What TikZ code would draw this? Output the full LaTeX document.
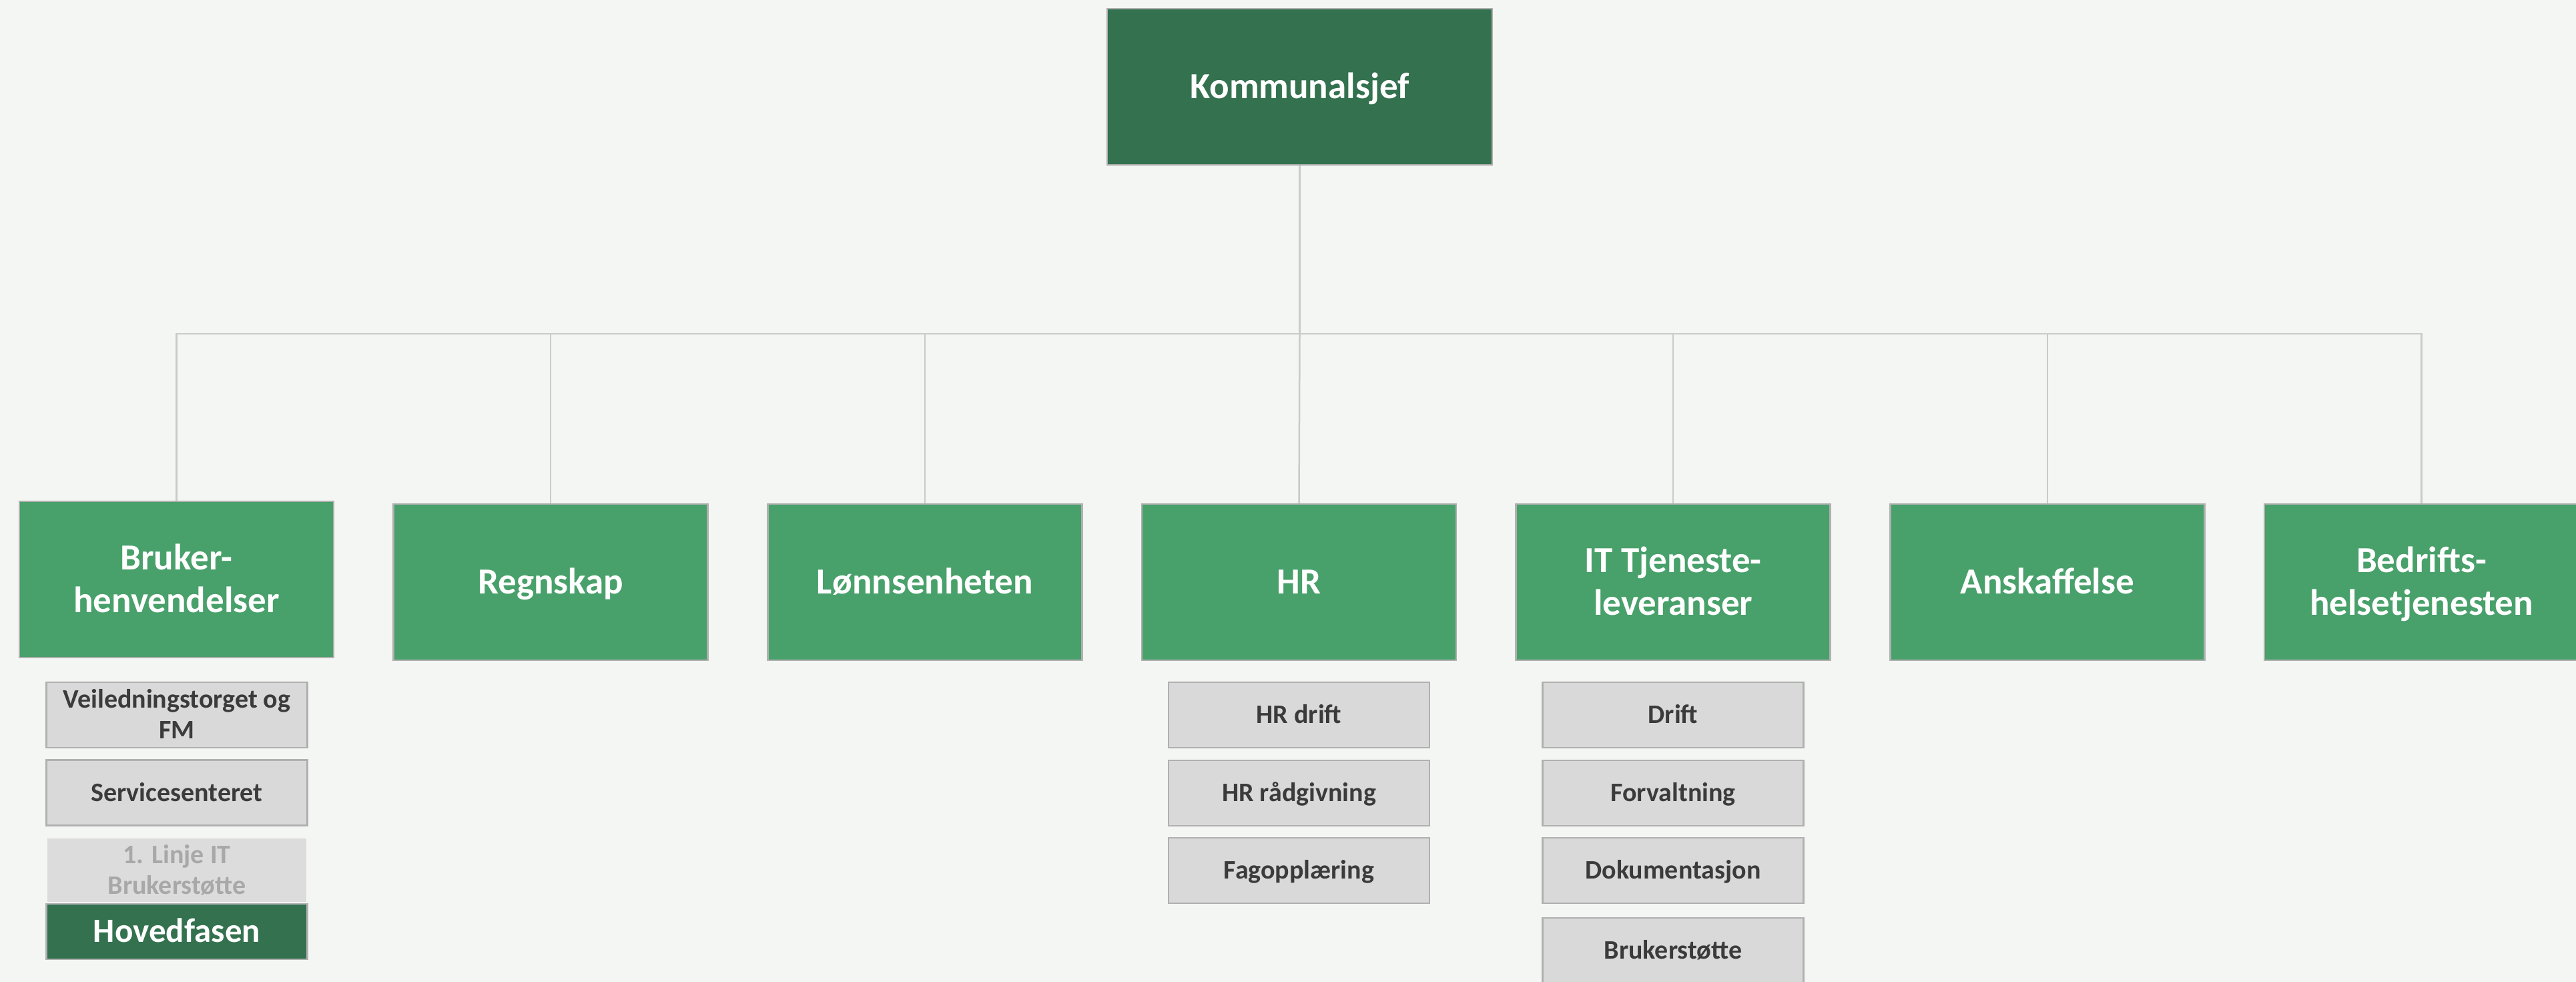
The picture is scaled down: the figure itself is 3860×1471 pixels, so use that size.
\documentclass[tikz,border=0pt]{standalone}
\usepackage{fontspec}
\setmainfont{Carlito}

\definecolor{bakgrunn}{HTML}{F4F6F3}
\definecolor{moerkgroenn}{HTML}{33714F}
\definecolor{groenn}{HTML}{48A06A}
\definecolor{graafyll}{HTML}{D9D9D9}
\definecolor{lysgraa}{HTML}{DCDCDC}
\definecolor{kant}{HTML}{B0B0B0}
\definecolor{strek}{HTML}{CACACA}
\definecolor{tekstgraa}{HTML}{3B3B3B}
\definecolor{svaktekst}{HTML}{A8A8A8}

\tikzset{
    chef/.style={draw=kant, line width=2.5pt, fill=moerkgroenn, text=white, inner sep=0pt,
        text height=45pt, text depth=9.6pt,
        minimum width=577pt, minimum height=234pt, font=\bfseries\fontsize{55}{64}\selectfont},
    avdeling/.style={draw=kant, line width=2.5pt, fill=groenn, text=white, inner sep=0pt, align=center,
        text height=45pt, text depth=9.6pt,
        minimum width=471pt, minimum height=234pt, font=\bfseries\fontsize{55}{64}\selectfont},
    enhet/.style={draw=kant, line width=2.5pt, fill=graafyll, text=tekstgraa, inner sep=0pt, align=center,
        text height=33pt, text depth=7.2pt,
        minimum width=391pt, minimum height=98pt, font=\bfseries\fontsize{40}{46}\selectfont},
    utgaatt/.style={fill=lysgraa, text=svaktekst, inner sep=0pt, align=center,
        text height=33pt, text depth=7.2pt,
        minimum width=388pt, minimum height=95pt, font=\bfseries\fontsize{40}{46}\selectfont},
    hovedfase/.style={draw=kant, line width=2.5pt, fill=moerkgroenn, text=white, inner sep=0pt,
        text height=42pt, text depth=9.2pt,
        minimum width=391pt, minimum height=83pt, font=\bfseries\fontsize{51}{60}\selectfont},
    % zweizeilige Texte: die erste Zeile kommt oben drauf
    tostor/.style={text height=109pt},
    toliten/.style={text height=79pt},
    linje/.style={draw=strek, line width=2.5pt}
}

\begin{document}
\begin{tikzpicture}[x=1pt, y=-1pt]
    % Hintergrund und Bildgrenzen (Pixelkoordinaten, y zeigt nach unten):
    \useasboundingbox (0,0) rectangle (3860,1471);
    \fill[bakgrunn] (0,0) rectangle (3860,1471);
    \clip (0,0) rectangle (3860,1471);

    % Die oberste Box:
    \node[chef] (chef) at (1947.5,130) {Kommunalsjef};

    % Die sieben Abteilungen in einer Reihe, Abstand ca. 560.7:
    \node[avdeling, tostor] (bruker) at (264.5,868)  {Bruker-\\henvendelser};
    \node[avdeling] (regnskap)       at (825.2,872)  {Regnskap};
    \node[avdeling] (loenn)          at (1385.8,872) {Lønnsenheten};
    \node[avdeling] (hr)             at (1946.5,872) {HR};
    \node[avdeling, tostor] (it)     at (2507.2,872) {IT Tjeneste-\\leveranser};
    \node[avdeling] (anskaff)        at (3067.8,872) {Anskaffelse};
    \node[avdeling, tostor] (bht)    at (3628.5,872) {Bedrifts-\\helsetjenesten};

    % Verbindungen: erst senkrecht runter bis zur Querlinie, dann zu jeder Abteilung.
    \coordinate (gren) at (1947.5,500);
    \draw[linje] (chef.south) -- (gren);
    \draw[linje] (gren) -| (bruker.north);
    \draw[linje] (gren) -| (regnskap.north);
    \draw[linje] (gren) -| (loenn.north);
    \draw[linje] (gren) -- (hr.north);
    \draw[linje] (gren) -| (it.north);
    \draw[linje] (gren) -| (anskaff.north);
    \draw[linje] (gren) -| (bht.north);

    % Unter Brukerhenvendelser:
    \node[enhet, toliten] (veiledning)  at (265,1071)   {Veiledningstorget og\\FM};
    \node[enhet] (service)              at (265,1187.5) {Servicesenteret};
    \node[utgaatt, toliten] (linjeit)   at (265,1303.5) {1. Linje IT\\Brukerstøtte};
    \node[hovedfase] (hoved)            at (265,1395.5) {Hovedfasen};

    % Unter HR:
    \node[enhet] (hrdrift) at (1946.5,1071) {HR drift};
    \node[enhet] (hrraad)  at (1946.5,1188) {HR rådgivning};
    \node[enhet] (fag)     at (1946.5,1304) {Fagopplæring};

    % Unter IT (die letzte Box wird unten vom Bildrand abgeschnitten):
    \node[enhet] (drift)    at (2507,1071) {Drift};
    \node[enhet] (forvalt)  at (2507,1188) {Forvaltning};
    \node[enhet] (dok)      at (2507,1304) {Dokumentasjon};
    \node[enhet] (bstoette) at (2507,1424) {Brukerstøtte};
\end{tikzpicture}
\end{document}
